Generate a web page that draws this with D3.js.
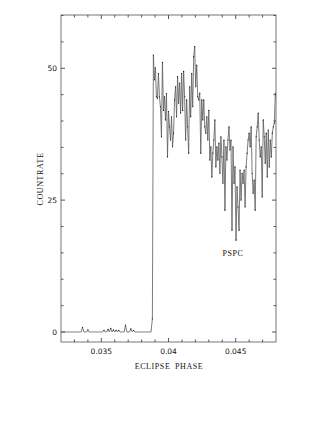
<!DOCTYPE html>
<html lang="en">
<head>
<meta charset="utf-8">
<title>eclipse phase</title>
<script src="https://cdn.jsdelivr.net/npm/d3@7"></script>
<style>
  body{margin:0;background:#fff;}
  svg{display:block;}
  .lab{font-family:"Liberation Serif",serif;font-size:8px;letter-spacing:0.6px;word-spacing:2px;fill:#111;}
  .ticklab{font-family:"DejaVu Sans",sans-serif;font-size:7.5px;fill:#111;}
</style>
</head>
<body>
<div id="chart1"></div>
<script>
// pre-egress bins (count rate ~0)
var lowStart = 0.0320, lowStep = 0.0001
var lowCounts = [0,0,0,0,0,0,0,0,0,0, 0,0,0,0,0,0,0.9,0,0,0, 0.4,0,0,0,0,0,0,0,0,0,
                 0,0,0.3,0,0,0.5,0,0.7,0,0.4, 0,0.3,0,0.3,0,0,0,0,1.3,0, 0,0,0.6,0,0.3,0,0,0,0,0,
                 0,0,0,0,0,0,0,0]
// egress and after
var highStart = 0.03880, highStep = 0.000075
var highCounts = [2.5,
  52.5,47.8,50.1,44.6,44.3,49,44.6,42.7,37,51.1,42,44.6,40.2,45.2,33.2,41.8,38.9,36.4,40.8,35.1,
  37.7,44,46.5,40.8,48.4,43.4,47.2,41.5,49,42,49.4,44.6,36.4,44,38.9,33.9,46.5,40.8,49,42.7,
  52.2,54.1,46.5,50.6,44.6,44,45.3,33.9,44,40.2,44,38.9,37.7,40.8,36.4,42,32.6,35.1,29.4,33.9,
  36.4,40.2,31.3,35.1,32.6,35.8,30.1,37,33.2,28.2,36.4,23.1,35.1,32.6,36.4,38.9,34.5,36.4,19.3,35.1,
  28.2,31.3,17.4,27.5,23.7,19.3,30.7,25,30.1,28.2,30.7,23.7,31.3,33.9,36.4,37.7,35.1,38.9,30.1,26.3,
  28.8,23.1,37,38.9,41.5,36.4,33.2,35.1,25.6,40.2,37,32,37.7,29.4,38.3,31.3,36.4,33.2,37.7,38.9,
  39.6,45.3,44]
var yTicks = [0,25,50]
var xTicks = [0.035,0.04,0.045]

var data = []
lowCounts.forEach(function(c,i){ data.push({phase:lowStart+i*lowStep,count:c}) })
highCounts.forEach(function(c,i){ data.push({phase:highStart+i*highStep,count:c}) })

var W = 327, H = 423
var pLeft = 61, pRight = 276, pTop = 15, pBottom = 342
var xScale = d3.scaleLinear().domain([0.032,0.048]).range([pLeft,pRight])
var yScale = d3.scaleLinear().domain([-1.9,60.1]).range([pBottom,pTop])

var svg = d3.select("#chart1").append("svg").attr("width",W).attr("height",H)

svg.append("defs").append("clipPath").attr("id","clip")
   .append("rect").attr("x",pLeft).attr("y",pTop).attr("width",pRight-pLeft).attr("height",pBottom-pTop)

var line = d3.line().x(function(d){return xScale(d.phase)}).y(function(d){return yScale(d.count)})
var g = svg.append("g").attr("clip-path","url(#clip)")
g.append("path").datum(data).attr("d",line)
   .attr("fill","none").attr("stroke","#5a5a5a").attr("stroke-width",0.8)
g.selectAll("circle").data(data.filter(function(d){return d.count>0.05}))
   .enter().append("circle")
   .attr("cx",function(d){return xScale(d.phase)})
   .attr("cy",function(d){return yScale(d.count)})
   .attr("r",0.6).attr("fill","#111")

// frame
svg.append("rect").attr("x",pLeft).attr("y",pTop).attr("width",pRight-pLeft).attr("height",pBottom-pTop)
   .attr("fill","none").attr("stroke","#777").attr("stroke-width",1)

// inward ticks on all four sides
var xMinor = d3.range(33,48).map(function(v){return v/1000})
var yMinor = d3.range(0,61,5)
function isMajorX(v){ return xTicks.some(function(t){return Math.abs(t-v)<1e-9}) }
function isMajorY(v){ return yTicks.indexOf(v)>=0 }
var tk = svg.append("g").attr("stroke","#444").attr("stroke-width",0.9)
xMinor.forEach(function(v){
    var len = isMajorX(v) ? 4 : 2.5
    tk.append("line").attr("x1",xScale(v)).attr("x2",xScale(v)).attr("y1",pBottom).attr("y2",pBottom-len)
    tk.append("line").attr("x1",xScale(v)).attr("x2",xScale(v)).attr("y1",pTop).attr("y2",pTop+len)
})
yMinor.forEach(function(v){
    var len = isMajorY(v) ? 4 : 2.5
    tk.append("line").attr("x1",pLeft).attr("x2",pLeft+len).attr("y1",yScale(v)).attr("y2",yScale(v))
    tk.append("line").attr("x1",pRight).attr("x2",pRight-len).attr("y1",yScale(v)).attr("y2",yScale(v))
})

svg.selectAll(".xl").data(xTicks).enter().append("text").attr("class","ticklab")
   .attr("x",function(d){return xScale(d)}).attr("y",354).attr("text-anchor","middle")
   .text(function(d){return d3.format("")(d)})
svg.selectAll(".yl").data(yTicks).enter().append("text").attr("class","ticklab")
   .attr("x",57).attr("y",function(d){return yScale(d)+2.7}).attr("text-anchor","end")
   .text(function(d){return d})

svg.append("text").attr("class","lab").attr("x",169).attr("y",369).attr("text-anchor","middle").text("ECLIPSE PHASE")
svg.append("text").attr("class","lab").attr("text-anchor","middle")
   .attr("transform","translate(43,179) rotate(-90)").text("COUNTRATE")
svg.append("text").attr("class","lab").attr("x",233).attr("y",256).attr("text-anchor","middle").text("PSPC")
</script>
</body>
</html>
